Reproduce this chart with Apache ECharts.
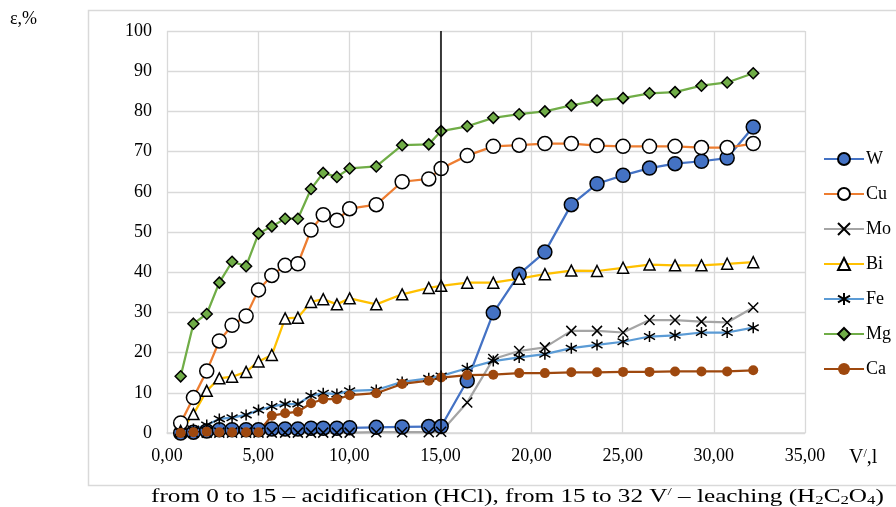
<!DOCTYPE html>
<html>
<head>
<meta charset="utf-8">
<script src="https://cdn.jsdelivr.net/npm/echarts@6/dist/echarts.min.js"></script>
<style>
html,body{margin:0;padding:0;background:#fff;}
#chart{width:896px;height:507px;}
</style>
</head>
<body>
<div id="chart"></div>
<script>
// Volume values (V', l)
var xValues = [0.75, 1.45, 2.18, 2.87, 3.57, 4.34, 5.02, 5.75, 6.48, 7.18, 7.90, 8.57, 9.32, 10.02, 11.48, 12.90, 14.36, 15.04, 16.47, 17.90, 19.32, 20.73, 22.18, 23.59, 25.02, 26.47, 27.87, 29.32, 30.73, 32.16];
var W  = [0, 0.2, 0.5, 0.8, 0.8, 0.8, 0.8, 1.0, 1.0, 1.0, 1.2, 1.2, 1.2, 1.3, 1.4, 1.5, 1.6, 1.6, 13.0, 29.9, 39.5, 45.0, 56.8, 62.0, 64.1, 65.9, 67.0, 67.6, 68.4, 76.1];
var Cu = [2.5, 8.8, 15.4, 22.9, 26.8, 29.1, 35.6, 39.2, 41.7, 42.1, 50.5, 54.3, 52.9, 55.8, 56.8, 62.5, 63.2, 65.8, 69.0, 71.3, 71.6, 72.0, 72.0, 71.5, 71.3, 71.3, 71.3, 71.0, 71.0, 72.0];
var Mo = [0, 0.1, 0.1, 0.1, 0.1, 0.1, 0.1, 0.1, 0.1, 0.1, 0.1, 0.1, 0.1, 0.1, 0.2, 0.2, 0.2, 0.3, 7.6, 18.4, 20.4, 21.3, 25.4, 25.4, 25.0, 28.1, 28.1, 27.7, 27.5, 31.2];
var Bi = [0.5, 4.7, 10.5, 13.6, 14.0, 15.2, 17.8, 19.4, 28.5, 28.7, 32.6, 33.3, 32.0, 33.5, 32.0, 34.5, 36.1, 36.6, 37.4, 37.4, 38.4, 39.5, 40.4, 40.3, 41.1, 41.9, 41.7, 41.7, 42.1, 42.5];
var Fe = [0.3, 1.0, 2.0, 3.5, 3.8, 4.5, 5.7, 6.6, 7.2, 7.2, 9.3, 9.9, 9.7, 10.5, 10.7, 12.7, 13.6, 14.2, 16.1, 17.9, 18.8, 19.6, 21.1, 21.9, 22.7, 24.0, 24.3, 25.0, 25.0, 26.2];
var Mg = [14.1, 27.2, 29.6, 37.4, 42.6, 41.5, 49.6, 51.4, 53.3, 53.3, 60.7, 64.7, 63.7, 65.8, 66.3, 71.6, 71.8, 75.1, 76.3, 78.4, 79.3, 80.0, 81.5, 82.7, 83.3, 84.5, 84.8, 86.4, 87.2, 89.5];
var Ca = [0, 0.2, 0.3, 0.2, 0.2, 0.2, 0.2, 4.3, 4.9, 5.3, 7.4, 8.4, 8.4, 9.4, 9.9, 12.2, 13.0, 13.8, 14.4, 14.5, 14.9, 14.9, 15.1, 15.1, 15.2, 15.2, 15.3, 15.3, 15.3, 15.6];
var seriesNames = ['W', 'Cu', 'Mo', 'Bi', 'Fe', 'Mg', 'Ca'];
var boundaryV = 15;

var FONT = '"Liberation Serif", "Times New Roman", serif';
function pairs(arr){ return xValues.map(function(x,i){ return [x, arr[i]]; }); }

var symX = 'path://M0,0 L10,10 M10,0 L0,10';
var symAst = 'path://M5,0 L5,10 M0,2.2 L10,7.8 M0,7.8 L10,2.2';

function mk(name, arr, color, symbol, size, fill, border, bw){
  return {
    name: name, type: 'line', data: pairs(arr),
    symbol: symbol, symbolSize: size, symbolKeepAspect: true,
    lineStyle: {color: color, width: 2.25},
    itemStyle: {color: fill, borderColor: border, borderWidth: bw},
    emphasis: {disabled: true},
    animation: false
  };
}

var series = [
  mk('W', W, '#4472C4', 'circle', 14, '#4472C4', '#000', 1.5),
  mk('Cu', Cu, '#ED7D31', 'circle', 14, '#ffffff', '#000', 1.5),
  mk('Mo', Mo, '#A5A5A5', symX, 10, 'none', '#000', 1.5),
  mk('Bi', Bi, '#FFC000', 'triangle', 11, '#ffffff', '#000', 1.5),
  mk('Fe', Fe, '#5B9BD5', symAst, 11, 'none', '#000', 1.5),
  mk('Mg', Mg, '#70AD47', 'diamond', 11, '#70AD47', '#000', 1.5),
  mk('Ca', Ca, '#9E480E', 'circle', 10, '#9E480E', '#9E480E', 0)
];
series[0].markLine = {
  silent: true, symbol: ['none','none'], label: {show:false},
  lineStyle: {color:'#000', width:1.5, type:'solid'},
  data: [{xAxis: boundaryV}], animation:false
};

var chart = echarts.init(document.getElementById('chart'), null, {renderer:'canvas'});
chart.setOption({
  backgroundColor: '#fff',
  animation: false,
  grid: {left:167, right:91, top:31, bottom:74, containLabel:false},
  xAxis: {
    type:'value', min:0, max:35, interval:5,
    axisLine: {show:true, lineStyle:{color:'#D9D9D9', width:1.5}},
    axisTick: {show:false},
    splitLine: {show:true, lineStyle:{color:'#D9D9D9', width:1.3}},
    axisLabel: {color:'#000', fontFamily:FONT, fontSize:18, margin:14,
      formatter: function(v){ return v.toFixed(2).replace('.', ','); }}
  },
  yAxis: {
    type:'value', min:0, max:100, interval:10,
    axisLine: {show:false}, axisTick:{show:false},
    splitLine: {show:true, lineStyle:{color:'#D9D9D9', width:1.3}},
    axisLabel: {color:'#000', fontFamily:FONT, fontSize:18, margin:15}
  },
  legend: {
    orient:'vertical', left:818, top:145,
    itemWidth:40, itemHeight:15, itemGap:17,
    textStyle:{color:'#000', fontFamily:FONT, fontSize:18, padding:[0,0,0,-3]},
    data: seriesNames
  },
  graphic: [
    {type:'rect', left:86, top:8, shape:{width:830, height:475}, style:{fill:'none', stroke:'#D9D9D9', lineWidth:1.5}, silent:true, z:-1},
    {type:'text', left:10, top:10, style:{text:'ε,%', font:'18px ' + FONT, fill:'#000'}},
    {type:'text', left:849, top:448, style:{
      text:'V{sup|/},l', fill:'#000', font:'20px ' + FONT,
      rich:{sup:{fontSize:12, fontFamily:FONT, fill:'#000', verticalAlign:'top', lineHeight:12}}
    }},
    {type:'text', x:151, y:487, scaleX:1.4, style:{
      text:'from 0 to 15 – acidification (HCl), from 15 to 32 V{sup|/} – leaching (H{sub|2}C{sub|2}O{sub|4})',
      fill:'#000', font:'18px ' + FONT, lineHeight:20,
      rich:{
        sup:{fontSize:11, fontFamily:FONT, fill:'#000', verticalAlign:'top', lineHeight:11},
        sub:{fontSize:12, fontFamily:FONT, fill:'#000', verticalAlign:'bottom', lineHeight:12}
      }
    }}
  ],
  series: series
});
</script>
</body>
</html>
